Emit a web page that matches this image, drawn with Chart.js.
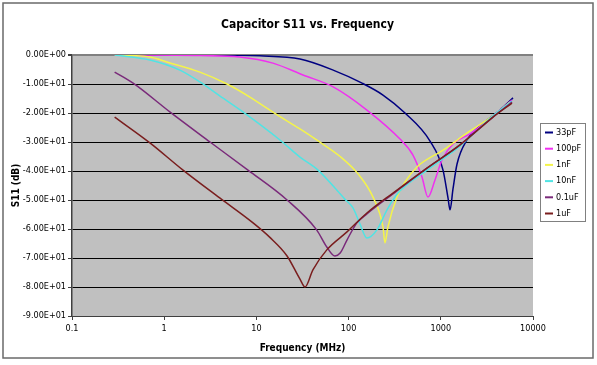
<!DOCTYPE html>
<html>
<head>
<meta charset="utf-8">
<script src="https://cdn.jsdelivr.net/npm/chart.js@4.4.1/dist/chart.umd.min.js"></script>
<style>
  html, body { margin: 0; padding: 0; background: #fff; }
  #wrap { width: 597px; height: 365px; position: relative; }
</style>
</head>
<body>
<div id="wrap"><canvas id="chart"></canvas></div>
<script>
// series: [frequency MHz, S11 dB]
const seriesLabels = ['33pF', '100pF', '1nF', '10nF', '0.1uF', '1uF'];
const seriesColors = ['#000080', '#f030f0', '#f4f44a', '#50e4e4', '#7a2a7a', '#7a1e1e'];

const cap33pF = [[0.29, 0], [3.4, 0], [10.9, -0.3], [29.7, -1.4], [68, -5.2], [140, -9.7], [236, -13.8], [409, -20.0], [764, -29.7], [1057, -39.7], [1197, -49.3], [1259, -53.4], [1356, -46.2], [1500, -37.6], [1923, -29.3], [2661, -24.5], [4385, -19.0], [6067, -14.8]];
const cap100pF = [[0.29, 0], [2.44, -0.2], [6.6, -0.7], [15.1, -2.8], [32, -6.9], [68, -11.0], [158, -19.0], [361, -29.0], [499, -34.5], [625, -42.1], [726, -49.0], [865, -43.1], [1030, -36.2], [1356, -30.7], [2075, -27.2], [3681, -21.0], [5920, -15.5]];
const cap1nF = [[0.29, 0], [0.7, -0.7], [1.07, -2.4], [2.44, -5.9], [4.8, -10.0], [8.5, -14.5], [15.1, -19.7], [29.7, -25.5], [45, -29.3], [81, -35.0], [126, -40.9], [184, -49.0], [236, -59.3], [248, -64.8], [267, -59.3], [335, -49.0], [409, -43.8], [552, -38.6], [1057, -32.8], [2075, -26.2], [3681, -21.0], [5633, -16.2]];
const cap10nF = [[0.29, 0], [0.7, -1.7], [1.48, -5.2], [2.44, -9.3], [4.0, -14.1], [7.2, -19.7], [18, -29.3], [29.7, -35.2], [46.6, -39.7], [91, -49.7], [112, -52.8], [133, -58.3], [158, -63.1], [203, -60.3], [261, -53.4], [343, -47.6], [708, -39.7], [1615, -31.4], [3681, -21.0], [5920, -15.9]];
const cap0u1F = [[0.29, -5.9], [0.46, -9.7], [1.16, -19.7], [3.14, -30.0], [8.1, -39.7], [21.5, -50.0], [45, -60.3], [58, -66.2], [71, -69.3], [81, -68.3], [96, -63.8], [123, -57.9], [158, -54.8], [303, -47.9], [708, -39.0], [1615, -31.0], [3681, -21.4], [5920, -16.2]];
const cap1uF = [[0.29, -21.4], [0.7, -30.3], [1.6, -39.7], [4.0, -49.3], [9.2, -57.9], [14, -62.9], [21.5, -69.3], [29.7, -77.3], [33.7, -80.0], [41, -74.1], [58, -67.2], [96, -61.0], [158, -54.5], [303, -47.6], [708, -39.0], [1615, -31.0], [3681, -21.4], [5920, -16.6]];

const seriesData = [cap33pF, cap100pF, cap1nF, cap10nF, cap0u1F, cap1uF];

const xTickValues = [0.1, 1, 10, 100, 1000, 10000];
const xTickLabels = ['0.1', '1', '10', '100', '1000', '10000'];
const yTickValues = [0, -10, -20, -30, -40, -50, -60, -70, -80, -90];
const yTickLabels = ['0.00E+00', '-1.00E+01', '-2.00E+01', '-3.00E+01', '-4.00E+01', '-5.00E+01', '-6.00E+01', '-7.00E+01', '-8.00E+01', '-9.00E+01'];

const FONT = "'DejaVu Sans Condensed', 'DejaVu Sans', sans-serif";

// gray plot area, frame, title and boxed legend
const decor = {
    id: 'decor',
    beforeDraw(chart) {
        const { ctx, chartArea } = chart;
        ctx.save();
        ctx.fillStyle = '#ffffff';
        ctx.fillRect(0, 0, chart.width, chart.height);
        ctx.fillStyle = '#c0c0c0';
        ctx.fillRect(chartArea.left, chartArea.top, chartArea.right - chartArea.left, chartArea.bottom - chartArea.top);
        ctx.restore();
    },
    afterDraw(chart) {
        const { ctx, chartArea } = chart;
        ctx.save();
        ctx.strokeStyle = '#6a6a6a';
        ctx.lineWidth = 1.5;
        ctx.strokeRect(3, 3, 590, 355);

        ctx.fillStyle = '#000';
        ctx.font = "bold 12px " + FONT;
        ctx.textAlign = 'center';
        ctx.textBaseline = 'middle';
        ctx.fillText('Capacitor S11 vs. Frequency', (chartArea.left + chartArea.right) / 2 + 5, 25);

        // legend
        ctx.fillStyle = '#ffffff';
        ctx.fillRect(540, 123, 45, 98);
        ctx.strokeStyle = '#808080';
        ctx.lineWidth = 1;
        ctx.strokeRect(540.5, 123.5, 45, 98);
        ctx.font = "9px " + FONT;
        ctx.textAlign = 'left';
        seriesLabels.forEach((label, i) => {
            const y = 132.5 + i * 16.2;
            ctx.strokeStyle = seriesColors[i];
            ctx.lineWidth = 2;
            ctx.beginPath();
            ctx.moveTo(545, y);
            ctx.lineTo(553, y);
            ctx.stroke();
            ctx.fillStyle = '#000';
            ctx.fillText(label, 556, y);
        });
        ctx.restore();
    }
};

new Chart(document.getElementById('chart'), {
    type: 'line',
    data: {
        datasets: seriesLabels.map((label, i) => ({
            label: label,
            data: seriesData[i].map(p => ({ x: p[0], y: p[1] })),
            borderColor: seriesColors[i],
            backgroundColor: seriesColors[i],
            borderWidth: 1.5,
            pointRadius: 0,
            cubicInterpolationMode: 'monotone',
            order: seriesLabels.length - 1 - i
        }))
    },
    options: {
        responsive: true,
        maintainAspectRatio: false,
        animation: false,
        layout: { padding: { left: 0, top: 55, right: 64, bottom: 7 } },
        plugins: {
            legend: { display: false },
            title: { display: false },
            tooltip: { enabled: false }
        },
        scales: {
            x: {
                type: 'logarithmic',
                min: 0.1,
                max: 10000,
                afterBuildTicks: (scale) => { scale.ticks = xTickValues.map(v => ({ value: v })); },
                afterFit: (scale) => { scale.height = 42; },
                ticks: {
                    autoSkip: false,
                    maxRotation: 0,
                    padding: 3,
                    color: '#000',
                    font: { family: FONT, size: 9 },
                    callback: (v) => xTickLabels[xTickValues.indexOf(v)]
                },
                grid: { drawOnChartArea: false, tickLength: 4, color: '#404040' },
                border: { color: '#404040', width: 1 },
                title: {
                    display: true,
                    text: 'Frequency (MHz)',
                    color: '#000',
                    font: { family: FONT, size: 10, weight: 'bold' },
                    padding: { top: 2, bottom: 4 }
                }
            },
            y: {
                min: -90,
                max: 0,
                afterBuildTicks: (scale) => { scale.ticks = yTickValues.map(v => ({ value: v })); },
                afterFit: (scale) => { scale.width = 72; },
                ticks: {
                    padding: 2,
                    color: '#000',
                    font: { family: FONT, size: 9 },
                    callback: (v) => yTickLabels[yTickValues.indexOf(v)]
                },
                grid: {
                    color: (c) => (c.tick && c.tick.value === 0 ? '#808080' : '#000000'),
                    lineWidth: (c) => (c.tick && c.tick.value === 0 ? 2 : 1),
                    tickColor: '#404040',
                    tickLength: 4
                },
                border: { color: '#404040', width: 1.5 },
                title: {
                    display: true,
                    text: 'S11 (dB)',
                    color: '#000',
                    font: { family: FONT, size: 10, weight: 'bold' },
                    padding: { top: 10, bottom: 0 }
                }
            }
        }
    },
    plugins: [decor]
});
</script>
</body>
</html>
